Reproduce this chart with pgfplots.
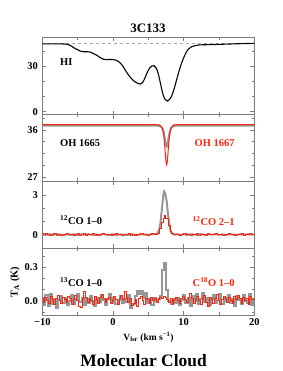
\documentclass[border=0pt]{standalone}
\usepackage{fontspec}
\setmainfont{Liberation Serif}
\usepackage{pgfplots}
\pgfplotsset{compat=1.18}
\definecolor{fr}{RGB}{125,125,125}
\definecolor{gr}{RGB}{150,150,150}
\definecolor{rd}{RGB}{255,35,10}
\pgfplotsset{panel/.style={scale only axis, width=212bp, xmin=-10, xmax=20,
  anchor=south west,
  axis line style={fr, line width=0.6pt},
  every tick/.style={fr, line width=0.5pt},
  major tick length=4bp, minor tick length=2.5bp,
  xtick={-10,0,10,20}, minor xtick={-5,5,15}, xticklabels={},
  tick label style={font=\fontsize{10.5}{12}\selectfont\bfseries},
  /pgf/number format/assume math mode=true,
  yticklabel style={xshift=-1bp},
  clip=true}}
\newcommand{\lab}{\fontsize{10.5}{12}\selectfont\bfseries}
\begin{document}
\begin{tikzpicture}[x=1bp,y=1bp]
\useasboundingbox (0,0) rectangle (283,371);
% Panel 1: HI
\begin{axis}[panel, at={(42.3bp,256.3bp)}, height=77.4bp, ymin=-2, ymax=49,
  ytick={0,30}, yticklabels={0,30}, minor ytick={10,20,40}]
\addplot[gray!70, dashed, line width=0.5pt] coordinates {(-10,45) (20,45)};
\addplot[black, line width=1.1pt, smooth] coordinates {
(-10,44.7) (-8,44.7) (-7,44.6) (-6.5,44.4) (-6.1,43.8) (-5.6,42.3) (-5.1,41) (-4.6,39.9)
(-4.2,39.5) (-3.7,39.5) (-3.25,39.3) (-2.8,38.4) (-2.3,37.2) (-1.8,35.6) (-1.4,34.6)
(-0.9,34.3) (-0.4,34.4) (0.1,34.3) (0.5,33.8) (1.0,32.2) (1.46,29.6) (1.9,26.2) (2.4,23)
(2.9,20.4) (3.35,19) (3.9,18.2) (4.2,19.3) (4.5,21.9) (4.85,25.8) (5.2,28.8) (5.5,30.1)
(5.8,30.3) (6.1,28.9) (6.4,25.2) (6.75,18) (7.1,11) (7.4,8) (7.7,7) (8.0,8.1) (8.3,10.2)
(8.65,15) (9.0,20.8) (9.35,26.8) (9.7,31.8) (10.05,36) (10.4,39.4) (10.75,41.5) (11.1,42.7)
(11.7,43.6) (12.3,44) (14,44.2) (16,44.5) (18,44.8) (20,45)};
\node[anchor=west, font=\lab] at (axis cs:-7.96,32.7) {HI};
\end{axis}
% Panel 2: OH
\begin{axis}[panel, at={(42.3bp,190bp)}, height=66.3bp, ymin=26.2, ymax=38.9,
  ytick={27,36}, yticklabels={27,36}, minor ytick={29.25,31.5,33.75,38.25}]
\addplot[gr, line width=2pt, smooth] coordinates {
(-10,36.8) (-6,36.82) (-2,36.79) (2,36.81) (6,36.8) (6.5,36.75) (6.8,36.6) (7.0,36.3) (7.2,35.4)
(7.35,34.2) (7.5,33.0) (7.6,32.8) (7.7,33.1) (7.85,34.3) (8.0,35.4) (8.2,36.3) (8.4,36.6)
(8.7,36.75) (9.2,36.8) (14,36.81) (20,36.8)};
\addplot[rd, line width=1pt, smooth] coordinates {
(-10,37.0) (-5,37.02) (0,36.99) (6,36.98) (6.5,36.9) (6.8,36.7) (7.0,36.2) (7.2,34.8)
(7.35,32.5) (7.5,30.0) (7.6,29.3) (7.7,30.1) (7.85,32.6) (8.0,34.8) (8.2,36.2) (8.4,36.7)
(8.7,36.9) (9.2,36.98) (15,37.01) (20,37.0)};
\node[anchor=west, font=\lab] at (axis cs:-7.96,33.55) {OH 1665};
\node[anchor=east, font=\lab, text=rd] at (axis cs:17.7,33.55) {OH 1667};
\end{axis}
% Panel 3: 12CO
\begin{axis}[panel, at={(42.3bp,122.5bp)}, height=67.5bp, ymin=-1.05, ymax=4.05,
  ytick={0,3}, yticklabels={0,3}, minor ytick={1,2,4}]
\addplot[gr, line width=2pt] coordinates {
(-10,0.02) (-9.5,-0.03) (-9,0.03) (-8.5,-0.02) (-8,0.04) (-7.5,0.0) (-7,-0.03) (-6.5,0.02)
(-6,-0.02) (-5.5,0.03) (-5,-0.04) (-4.5,0.02) (-4,0.0) (-3.5,0.03) (-3,-0.02) (-2.5,0.02)
(-2,-0.03) (-1.5,0.04) (-1,0.0) (-0.5,-0.02) (0,0.03) (0.5,-0.03) (1,0.02) (1.5,0.0)
(2,-0.03) (2.5,0.03) (3,0.0) (3.5,-0.02) (4,0.03) (4.5,0.0) (5,-0.02) (5.5,0.03) (6,0.05)
(6.3,0.1) (6.5,0.3) (6.7,0.8) (6.9,1.8) (7.1,2.9) (7.25,3.25) (7.4,3.1) (7.6,2.5) (7.8,1.5)
(8.0,0.6) (8.2,0.2) (8.4,0.06) (8.7,0.0) (9,0.03) (9.5,-0.02) (10,0.02) (10.5,-0.03) (11,0.03)
(11.5,0.0) (12,-0.02) (12.5,0.03) (13,-0.03) (13.5,0.02) (14,0.0) (14.5,0.03) (15,-0.02)
(15.5,0.02) (16,-0.03) (16.5,0.03) (17,0.0) (17.5,-0.02) (18,0.03) (18.5,-0.02) (19,0.02)
(19.5,0.0) (20,0.02)};
\addplot[rd, line width=1pt, const plot mark mid] coordinates {
(-10,0.05) (-9.7,-0.02) (-9.4,0.08) (-9.1,0.01) (-8.8,-0.04) (-8.5,0.03) (-8.2,0.06) (-7.9,-0.03)
(-7.6,0.02) (-7.3,-0.06) (-7.0,0.04) (-6.7,0.0) (-6.4,0.07) (-6.1,-0.02) (-5.8,0.03) (-5.5,-0.05)
(-5.2,0.02) (-4.9,0.06) (-4.6,-0.03) (-4.3,0.01) (-4.0,0.05) (-3.7,-0.04) (-3.4,0.02) (-3.1,0.0)
(-2.8,0.06) (-2.5,-0.03) (-2.2,0.03) (-1.9,-0.06) (-1.6,0.02) (-1.3,0.05) (-1.0,-0.02) (-0.7,0.04)
(-0.4,0.0) (-0.1,-0.04) (0.2,0.03) (0.5,0.07) (0.8,-0.01) (1.1,0.02) (1.4,-0.05) (1.7,0.03)
(2.0,0.0) (2.3,0.05) (2.6,-0.03) (2.9,0.02) (3.2,-0.06) (3.5,0.04) (3.8,0.01) (4.1,0.06)
(4.4,-0.02) (4.7,0.03) (5.0,-0.04) (5.3,0.02) (5.6,0.05) (5.9,0.0) (6.2,0.04) (6.5,0.12)
(6.8,0.45) (7.0,0.95) (7.2,1.22) (7.4,1.47) (7.6,1.22) (7.8,1.2) (8.0,0.7) (8.2,0.25)
(8.4,0.06) (8.7,-0.02) (9.0,0.04) (9.3,0.0) (9.6,-0.04) (9.9,0.03) (10.2,0.06) (10.5,-0.01)
(10.8,0.02) (11.1,-0.05) (11.4,0.04) (11.7,0.01) (12.0,0.06) (12.3,-0.03) (12.6,0.02) (12.9,0.0)
(13.2,-0.04) (13.5,0.05) (13.8,0.01) (14.1,-0.02) (14.4,0.03) (14.7,0.07) (15.0,-0.01) (15.3,0.02)
(15.6,-0.05) (15.9,0.03) (16.2,0.0) (16.5,0.05) (16.8,-0.02) (17.1,0.02) (17.4,-0.04) (17.7,0.04)
(18.0,0.01) (18.3,0.06) (18.6,-0.03) (18.9,0.02) (19.2,0.0) (19.5,0.05) (19.8,-0.02) (20.0,0.03)};
\node[anchor=west, font=\lab] at (axis cs:-7.96,1.12) {\textsuperscript{12}CO 1–0};
\node[anchor=east, font=\lab, text=rd] at (axis cs:17.7,1.0) {\textsuperscript{12}CO 2–1};
\end{axis}
% Panel 4: 13CO / C18O
\begin{axis}[panel, at={(42.3bp,56bp)}, height=66.5bp, ymin=-0.126, ymax=0.468,
  ytick={0,0.3}, yticklabels={0.0,0.3}, minor ytick={-0.1,0.1,0.2,0.4},
  xticklabels={−10,0,10,20}]
\addplot[gr, line width=2pt, const plot mark mid] coordinates {
(-10.0,0.03) (-9.7,-0.04) (-9.4,0.05) (-9.1,-0.05) (-8.8,0.06) (-8.5,-0.03) (-8.2,0.02) (-7.9,-0.06)
(-7.6,0.01) (-7.3,0.04) (-7.0,-0.02) (-6.7,0.03) (-6.4,-0.04) (-6.1,0.0) (-5.8,0.05) (-5.5,-0.03)
(-5.2,0.02) (-4.9,0.06) (-4.6,-0.01) (-4.3,0.03) (-4.0,-0.04) (-3.7,0.02) (-3.4,-0.02) (-3.1,0.04)
(-2.8,0.0) (-2.5,-0.05) (-2.2,0.03) (-1.9,-0.01) (-1.6,0.05) (-1.3,0.01) (-1.0,-0.04) (-0.7,0.02)
(-0.4,0.06) (-0.1,-0.02) (0.2,0.03) (0.5,-0.03) (0.8,0.01) (1.1,0.04) (1.4,-0.02) (1.7,0.02)
(2.0,-0.01) (2.3,0.05) (2.6,-0.06) (2.9,-0.03) (3.2,0.04) (3.5,0.09) (3.8,0.06) (4.1,0.09)
(4.4,0.03) (4.7,0.07) (5.0,-0.02) (5.3,0.02) (5.6,-0.04) (5.9,0.03) (6.2,0.0) (6.5,0.02)
(6.8,0.04) (7.1,0.28) (7.4,0.34) (7.7,0.10) (8.0,0.0) (8.3,-0.03) (8.6,0.02) (8.9,-0.02)
(9.2,0.03) (9.5,-0.04) (9.8,0.01) (10.1,0.05) (10.4,-0.02) (10.7,0.03) (11.0,-0.05) (11.3,0.04)
(11.6,0.0) (11.9,0.06) (12.2,-0.03) (12.5,0.02) (12.8,0.07) (13.1,-0.01) (13.4,0.03) (13.7,-0.04)
(14.0,0.02) (14.3,0.05) (14.6,-0.02) (14.9,0.01) (15.2,0.06) (15.5,-0.03) (15.8,0.03) (16.1,0.0)
(16.4,0.05) (16.7,-0.02) (17.0,0.02) (17.3,-0.05) (17.6,0.04) (17.9,0.01) (18.2,-0.03) (18.5,0.05)
(18.8,0.0) (19.1,-0.02) (19.4,0.06) (19.7,-0.04) (20.0,0.02)};
\addplot[rd, line width=1pt, const plot mark mid] coordinates {
(-10,0.02) (-9.75,-0.01) (-9.5,0.03) (-9.25,0.0) (-9,-0.02) (-8.75,0.04) (-8.5,0.01) (-8.25,-0.03)
(-8,0.02) (-7.75,0.05) (-7.5,0.0) (-7.25,-0.02) (-7,0.03) (-6.75,0.01) (-6.5,-0.01) (-6.25,0.04)
(-6,0.02) (-5.75,-0.03) (-5.5,0.01) (-5.25,0.05) (-5,0.0) (-4.75,-0.05) (-4.5,-0.06) (-4.25,0.02)
(-4,0.08) (-3.75,0.03) (-3.5,-0.01) (-3.25,0.02) (-3,0.0) (-2.75,-0.03) (-2.5,0.04) (-2.25,0.01)
(-2,-0.02) (-1.75,0.03) (-1.5,0.06) (-1.25,0.02) (-1,-0.01) (-0.75,0.01) (-0.5,0.03) (-0.25,-0.02)
(0,0.0) (0.25,0.04) (0.5,0.01) (0.75,-0.03) (1,0.02) (1.25,0.05) (1.5,0.01) (1.75,0.08)
(2,0.03) (2.25,-0.01) (2.5,0.02) (2.75,-0.04) (3,-0.02) (3.25,0.01) (3.5,-0.05) (3.75,0.02)
(4,0.04) (4.25,0.0) (4.5,-0.03) (4.75,0.02) (5,0.01) (5.25,-0.02) (5.5,0.03) (5.75,0.0)
(6,0.02) (6.25,-0.01) (6.5,0.01) (6.75,0.03) (7,0.02) (7.25,0.04) (7.5,0.03) (7.75,0.01)
(8,-0.01) (8.25,0.02) (8.5,-0.03) (8.75,0.01) (9,0.03) (9.25,0.0) (9.5,-0.02) (9.75,0.02)
(10,0.04) (10.25,0.01) (10.5,-0.01) (10.75,0.03) (11,0.07) (11.25,0.02) (11.5,-0.02) (11.75,0.01)
(12,0.04) (12.25,0.0) (12.5,-0.03) (12.75,0.02) (13,0.05) (13.25,-0.01) (13.5,-0.05) (13.75,0.03)
(14,0.01) (14.25,-0.02) (14.5,0.02) (14.75,0.06) (15,0.0) (15.25,-0.03) (15.5,0.01) (15.75,0.04)
(16,0.02) (16.25,-0.01) (16.5,0.03) (16.75,0.0) (17,-0.02) (17.25,0.04) (17.5,0.01) (17.75,0.05)
(18,0.02) (18.25,-0.02) (18.5,0.03) (18.75,0.0) (19,0.02) (19.25,-0.03) (19.5,0.04) (19.75,0.01)
(20,0.02)};
\node[anchor=west, font=\lab] at (axis cs:-7.96,0.168) {\textsuperscript{13}CO 1–0};
\node[anchor=east, font=\lab, text=rd] at (axis cs:17.7,0.165) {C\textsuperscript{18}O 1–0};
\end{axis}
\node[font=\fontsize{13}{15}\selectfont\bfseries, anchor=base] at (148,338.7) {3C133};
\node[font=\fontsize{17.5}{20}\selectfont\bfseries, anchor=base] at (143.5,4.3) {Molecular Cloud};
\node[font=\fontsize{9.5}{11}\selectfont\bfseries] at (148.5,34) {V\textsubscript{lsr} (km s\textsuperscript{−1})};
\node[font=\fontsize{10.5}{12}\selectfont\bfseries, rotate=90] at (15,89) {T\textsubscript{A} (K)};
\end{tikzpicture}
\end{document}
